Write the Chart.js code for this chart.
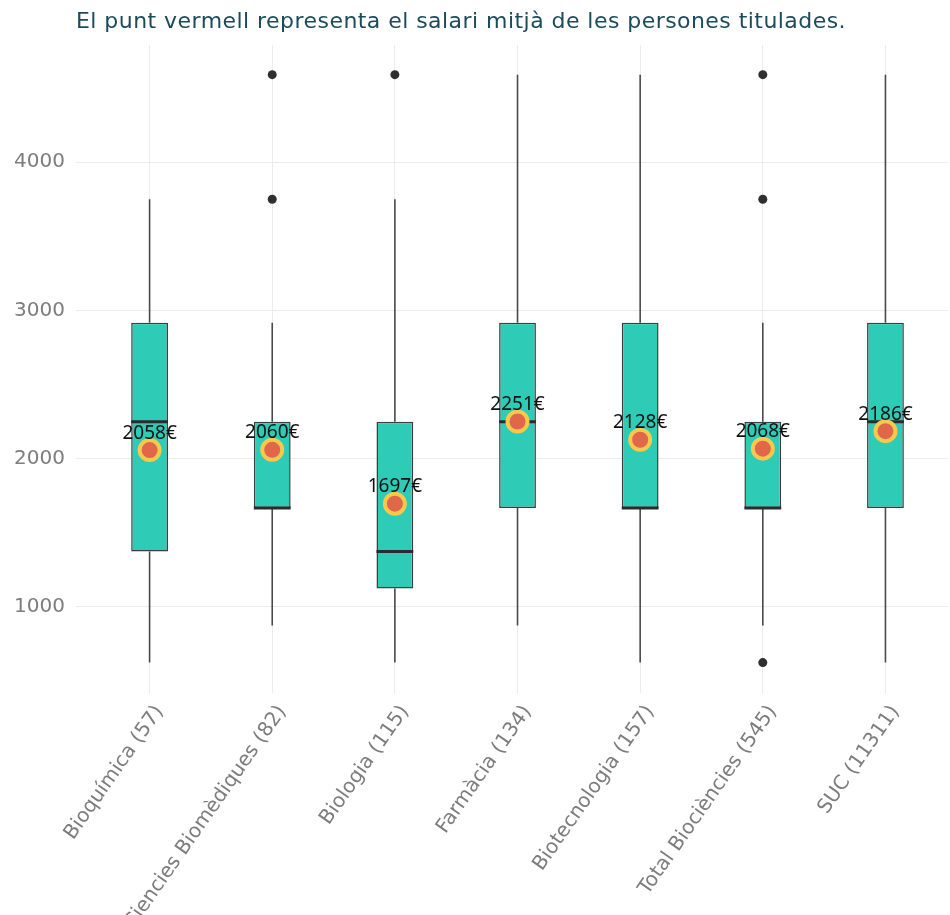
<!DOCTYPE html>
<html>
<head>
<meta charset="utf-8">
<script src="https://cdn.jsdelivr.net/npm/chart.js@4.4.1/dist/chart.umd.min.js"></script>
<style>
  html, body { margin: 0; padding: 0; background: #fff; }
  #wrap { position: relative; width: 950px; height: 915px; }
  #chart { position: absolute; left: 0; top: 0; }
  #title {
    position: absolute; left: 76px; top: 9px;
    font-family: 'DejaVu Sans', sans-serif; font-size: 22px; line-height: 24px;
    letter-spacing: 0.45px; color: #1c4b5b; white-space: nowrap;
  }
</style>
</head>
<body>
<div id="wrap">
  <canvas id="chart" width="950" height="915"></canvas>
  <div id="title">El punt vermell representa el salari mitjà de les persones titulades.</div>
</div>
<script>
// Salary distribution per degree (euros / month)
const categories = ['Bioquímica (57)', 'Ciencies Biomèdiques (82)', 'Biologia (115)', 'Farmàcia (134)',
  'Biotecnologia (157)', 'Total Biociències (545)', 'SUC (11311)'];
const whiskerLow  = [625, 875, 625, 875, 625, 875, 625];
const q1          = [1375, 1667, 1125, 1667, 1667, 1667, 1667];
const median      = [2250, 1667, 1375, 2250, 1667, 1667, 2250];
const q3          = [2917, 2250, 2250, 2917, 2917, 2250, 2917];
const whiskerHigh = [3750, 2917, 3750, 4590, 4590, 2917, 4590];
const meanSalary  = [2058, 2060, 1697, 2251, 2128, 2068, 2186];
const outliers    = [[], [3750, 4590], [4590], [], [], [625, 3750, 4590], []];
const yTicks      = [1000, 2000, 3000, 4000];

const xPos = categories.map((_, i) => i + 1);
const axisFont = { family: "'DejaVu Sans', sans-serif", size: 20 };

/**
 * Whiskers behind the boxes, medians over them, mean labels on top
 */
const boxPlotExtras = {
  id: 'boxPlotExtras',
  beforeDatasetsDraw(chart) {
    const { ctx, scales: { x, y } } = chart;
    ctx.save();
    ctx.strokeStyle = '#4a4a4a';
    ctx.lineWidth = 1.6;
    xPos.forEach((v, i) => {
      const px = x.getPixelForValue(v);
      ctx.beginPath();
      ctx.moveTo(px, y.getPixelForValue(whiskerLow[i]));
      ctx.lineTo(px, y.getPixelForValue(q1[i]));
      ctx.moveTo(px, y.getPixelForValue(q3[i]));
      ctx.lineTo(px, y.getPixelForValue(whiskerHigh[i]));
      ctx.stroke();
    });
    ctx.restore();
  },
  afterDatasetDraw(chart, args) {
    if (args.meta.type !== 'bar') return;
    const { ctx, scales: { y } } = chart;
    ctx.save();
    ctx.strokeStyle = '#2b2b2b';
    ctx.lineWidth = 3;
    args.meta.data.forEach((bar, i) => {
      const py = y.getPixelForValue(median[i]);
      ctx.beginPath();
      ctx.moveTo(bar.x - bar.width / 2, py);
      ctx.lineTo(bar.x + bar.width / 2, py);
      ctx.stroke();
    });
    ctx.restore();
  },
  afterDatasetsDraw(chart) {
    const { ctx, scales: { x, y } } = chart;
    ctx.save();
    ctx.font = "19px 'Noto Sans', sans-serif";
    ctx.fillStyle = '#111';
    ctx.textAlign = 'center';
    ctx.textBaseline = 'middle';
    xPos.forEach((v, i) => {
      ctx.fillText(meanSalary[i] + '€', x.getPixelForValue(v), y.getPixelForValue(meanSalary[i]) - 17);
    });
    ctx.restore();
  }
};

const outlierPoints = [];
outliers.forEach((vals, i) => vals.forEach(v => outlierPoints.push({ x: xPos[i], y: v })));

new Chart(document.getElementById('chart').getContext('2d'), {
  type: 'bar',
  data: {
    datasets: [
      {
        type: 'scatter',
        label: 'Salari mitjà',
        data: xPos.map((x, i) => ({ x, y: meanSalary[i] })),
        pointRadius: 10,
        pointBackgroundColor: '#e0674a',
        pointBorderColor: '#f6c94d',
        pointBorderWidth: 4,
        order: 0
      },
      {
        type: 'scatter',
        label: 'Valors atípics',
        data: outlierPoints,
        pointRadius: 4.5,
        pointBackgroundColor: '#2f2f2f',
        pointBorderWidth: 0,
        order: 1
      },
      {
        type: 'bar',
        label: 'Rang interquartílic',
        data: xPos.map((x, i) => ({ x, y: [q1[i], q3[i]] })),
        backgroundColor: '#2ecbb7',
        borderColor: '#3d3d3d',
        borderWidth: 1.5,
        borderSkipped: false,
        barPercentage: 0.3,
        categoryPercentage: 1,
        order: 2
      }
    ]
  },
  options: {
    responsive: false,
    animation: false,
    devicePixelRatio: 1,
    layout: { autoPadding: false, padding: { top: 45, right: 2, left: 0, bottom: 0 } },
    plugins: {
      legend: { display: false },
      tooltip: { enabled: false }
    },
    scales: {
      x: {
        type: 'linear',
        min: 0.4,
        max: 7.51,
        offset: false,
        afterBuildTicks: s => { s.ticks = xPos.map(v => ({ value: v })); },
        afterFit: s => {
          s.height = 222;
          s.paddingLeft = 0;
          s.paddingRight = 0;
        },
        grid: { color: '#ebebeb', drawTicks: false, offset: false },
        border: { display: false },
        ticks: {
          autoSkip: false,
          minRotation: 55,
          maxRotation: 55,
          padding: 8,
          labelOffset: 10,
          color: '#7d7d7d',
          font: axisFont,
          callback: v => categories[v - 1]
        }
      },
      y: {
        min: 420,
        max: 4790,
        afterBuildTicks: s => { s.ticks = yTicks.map(v => ({ value: v })); },
        afterFit: s => {
          s.width = 76;
          s.paddingTop = 0;
          s.paddingBottom = 0;
        },
        grid: { color: '#ebebeb', drawTicks: false },
        border: { display: false },
        ticks: { padding: 11, color: '#7d7d7d', font: axisFont, callback: v => String(v) }
      }
    }
  },
  plugins: [boxPlotExtras]
});
</script>
</body>
</html>
